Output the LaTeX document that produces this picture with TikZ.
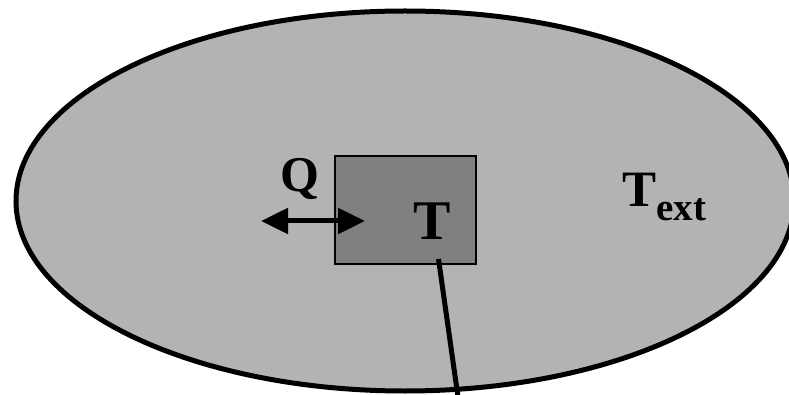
\documentclass[tikz,border=0pt]{standalone}
\usepackage{fontspec}
\setmainfont{Liberation Serif}
\usetikzlibrary{shapes.geometric,arrows.meta}
\definecolor{envgray}{RGB}{179,179,179}
\definecolor{boxgray}{RGB}{128,128,128}
\tikzset{
  envshape/.style={ellipse, draw=black, line width=5pt, fill=envgray, inner sep=0pt, minimum width=778pt, minimum height=380pt},
  bodybox/.style={rectangle, draw=black, line width=2.5pt, fill=boxgray, inner sep=0pt, minimum width=141pt, minimum height=108pt},
  heatarrow/.style={line width=5pt, {Triangle[length=27pt,width=25pt]}-{Triangle[length=27pt,width=25pt]}},
  wire/.style={line width=5pt},
  lbl/.style={inner sep=0pt, font=\bfseries}
}
\begin{document}
\begin{tikzpicture}[x=1pt,y=-1pt]
\useasboundingbox (0,0) rectangle (789,395);
\fill[white] (0,0) rectangle (789,395);
\begin{scope}
\clip (0,0) rectangle (789,395);
\node[envshape] (env) at (405,201) {};
\end{scope}
\node[bodybox] (box) at (405.5,210) {};
\coordinate (wa) at (261,221);
\coordinate (wb) at (365,221);
\draw[heatarrow] (wa) -- (wb);
\coordinate (probetop) at (438.5,259);
\coordinate (probeend) at (458,397);
\draw[wire] (probetop) -- (probeend);
\node[lbl, anchor=base, font=\fontsize{50}{50}\selectfont\bfseries] (q) at (300,192) {Q};
\node[lbl, anchor=base, font=\fontsize{56}{56}\selectfont\bfseries] (t) at (432,240) {T};
\node[lbl, anchor=base west, font=\fontsize{51}{51}\selectfont\bfseries] (text) at (622,207) {T\raisebox{-14pt}{\fontsize{39}{39}\selectfont ext}};
\end{tikzpicture}
\end{document}
